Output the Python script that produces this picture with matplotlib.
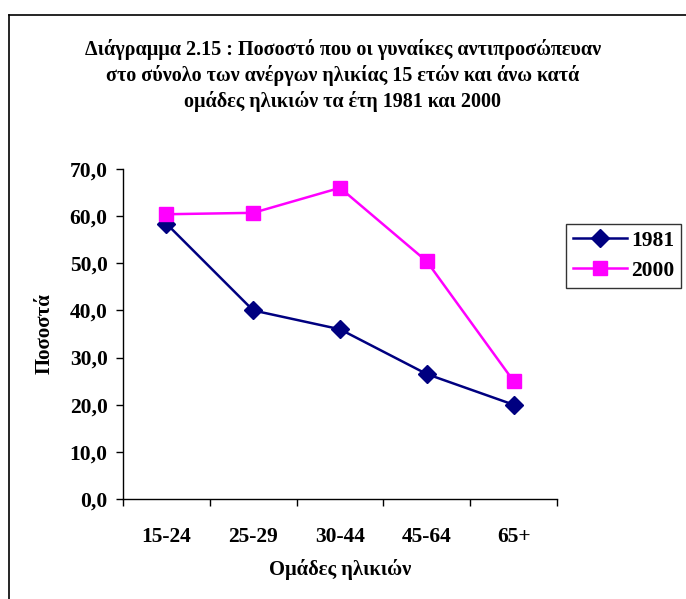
import matplotlib
matplotlib.use('Agg')
import matplotlib.pyplot as plt
from matplotlib.lines import Line2D
from matplotlib.ticker import FixedLocator, FuncFormatter

# Data
age_groups = ['15-24', '25-29', '30-44', '45-64', '65+']
pct_1981 = [58.4, 40.0, 36.0, 26.5, 20.0]
pct_2000 = [60.4, 60.7, 66.0, 50.4, 25.0]
series_names = ['1981', '2000']

title = ('Διάγραμμα 2.15 : Ποσοστό που οι γυναίκες αντιπροσώπευαν\n'
         'στο σύνολο των ανέργων ηλικίας 15 ετών και άνω κατά\n'
         'ομάδες ηλικιών τα έτη 1981 και 2000')


def main():
    plt.rcParams['font.family'] = ['Liberation Serif', 'DejaVu Serif']
    plt.rcParams['font.weight'] = 'bold'

    fig = plt.figure(figsize=(6.86, 5.99), dpi=100)
    ax = fig.add_axes([0.1793, 0.1669, 0.8120 - 0.1793, 0.7179 - 0.1669])

    x = list(range(len(age_groups)))
    ax.plot(x, pct_1981, color='#000080', lw=1.8, marker='D', ms=9,
            label=series_names[0])
    ax.plot(x, pct_2000, color='#FF00FF', lw=1.8, marker='s', ms=10.5,
            label=series_names[1])

    ax.set_xlim(-0.5, len(age_groups) - 0.5)
    ax.set_ylim(0, 70)
    ax.set_yticks(range(0, 71, 10))
    ax.yaxis.set_major_formatter(FuncFormatter(lambda v, p: f'{v:.1f}'.replace('.', ',')))
    ax.set_xticks(x)
    ax.set_xticklabels(age_groups)
    ax.xaxis.set_minor_locator(FixedLocator([i - 0.5 for i in range(len(age_groups) + 1)]))
    ax.tick_params(axis='x', which='major', length=0, pad=20, labelsize=15.5)
    ax.tick_params(axis='x', which='minor', length=5, direction='out', width=1)
    ax.tick_params(axis='y', length=5, width=1, labelsize=15.5, pad=6)

    for s in ['top', 'right']:
        ax.spines[s].set_visible(False)
    for s in ['left', 'bottom']:
        ax.spines[s].set_linewidth(1)

    ax.set_xlabel('Ομάδες ηλικιών', fontsize=14.8, fontweight='bold', labelpad=9)
    ax.set_ylabel('Ποσοστά', fontsize=15, fontweight='bold', labelpad=11)

    fig.text(0.5, 0.935, title, ha='center', va='top', fontsize=14.5,
             fontweight='bold', linespacing=1.3)

    leg = fig.legend(loc='upper left', bbox_to_anchor=(0.825, 0.626),
                     borderaxespad=0, frameon=True, fancybox=False, edgecolor='black',
                     prop={'size': 15.5, 'weight': 'bold'}, handlelength=2.5,
                     borderpad=0.32, labelspacing=0.45, handletextpad=0.2)
    leg.get_frame().set_linewidth(1)

    # outer chart border (left and top visible in the reference)
    fig.add_artist(Line2D([9 / 686, 9 / 686], [0, 1 - 15 / 599], color='black', lw=1.2,
                          transform=fig.transFigure))
    fig.add_artist(Line2D([9 / 686, 1], [1 - 15 / 599, 1 - 15 / 599], color='black', lw=1.2,
                          transform=fig.transFigure))

    fig.savefig('out.png', dpi=100)


if __name__ == '__main__':
    main()
